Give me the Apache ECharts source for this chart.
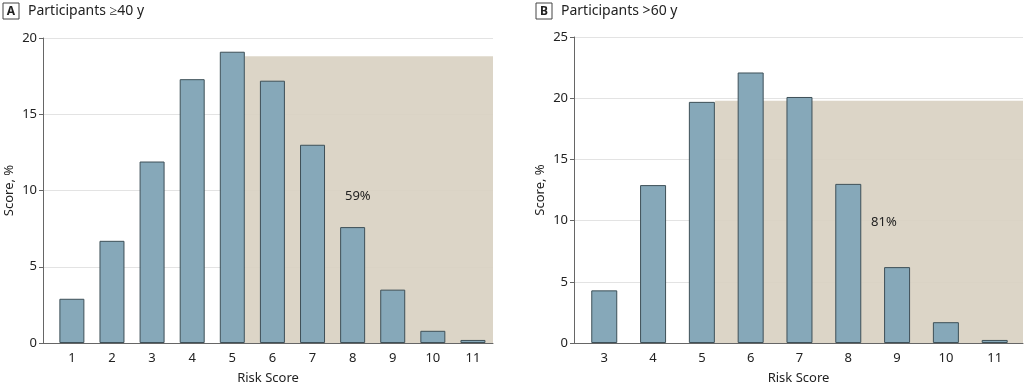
<!DOCTYPE html>
<html><head><meta charset="utf-8">
<script src="https://cdn.jsdelivr.net/npm/echarts@6/dist/echarts.min.js"></script>
<style>html,body{margin:0;padding:0;background:#fff}#c{width:1024px;height:384px}</style>
</head><body><div id="c"></div>
<script>
// Panel A: participants >=40 y
const scoresA = [1,2,3,4,5,6,7,8,9,10,11];
const valuesA = [2.9,6.7,11.9,17.3,19.1,17.2,13.0,7.6,3.5,0.8,0.2];
// Panel B: participants >60 y
const scoresB = [3,4,5,6,7,8,9,10,11];
const valuesB = [4.3,12.9,19.7,22.1,20.1,13.0,6.2,1.7,0.25];
// shaded (high-risk) regions: [xStart, xEnd, height] and label
const shadeA = [5.31, 11.5, 18.8];
const shadeB = [5.27, 11.58, 19.8];
const labelA = {text:'59%', x:8.13, y:9.6};
const labelB = {text:'81%', x:8.73, y:9.9};
const yTicksA = {max:20, step:5};
const yTicksB = {max:25, step:5};

const FONT = 'Noto Sans';
const axisCol = '#666';
const barStyle = {color:'#86a8b9', borderColor:'#3e5058', borderWidth:1};
const shadeCol = '#d9d2c3';

function xAxis(idx, min, max, cats){
  return {type:'value', gridIndex:idx, min:min, max:max,
    name:'Risk Score', nameLocation:'middle', nameGap:29,
    nameTextStyle:{fontFamily:FONT, fontSize:13, color:'#222'},
    axisLine:{show:true, onZero:false, lineStyle:{color:axisCol, width:1}},
    axisTick:{show:false}, splitLine:{show:false},
    axisLabel:{customValues:cats, fontFamily:FONT, fontSize:13, color:'#222', margin:9}};
}
function yAxis(idx, t){
  return {type:'value', gridIndex:idx, min:0, max:t.max, interval:t.step,
    name:'Score, %', nameLocation:'middle', nameGap:27,
    nameTextStyle:{fontFamily:FONT, fontSize:13, color:'#222'},
    axisLine:{show:true, lineStyle:{color:axisCol, width:1}},
    axisTick:{show:true, length:4, lineStyle:{color:axisCol}},
    splitLine:{show:true, lineStyle:{color:'#e3e3e3', width:1}},
    axisLabel:{fontFamily:FONT, fontSize:13, color:'#222', margin:6}};
}
function shadeSeries(idx, s, lab){
  return {type:'scatter', xAxisIndex:idx, yAxisIndex:idx, data:[], z:1, silent:true,
    markArea:{silent:true, itemStyle:{color:shadeCol, opacity:0.93},
      data:[[{coord:[s[0],0]},{coord:[s[1],s[2]]}]]},
    markPoint:{symbolSize:0, silent:true,
      label:{show:true, formatter:lab.text, fontFamily:FONT, fontSize:13, color:'#222'},
      data:[{coord:[lab.x, lab.y], value:lab.text}]}};
}
function barSeries(idx, xs, ys, w){
  return {type:'bar', xAxisIndex:idx, yAxisIndex:idx, z:3, barWidth:w,
    itemStyle:barStyle, data:xs.map((x,i)=>[x, ys[i]])};
}
function title(letter, text, left){
  return {left:left, top:1, padding:[2,0,0,0], text:'{b|'+letter+'}{t|'+text+'}',
    textStyle:{fontWeight:'normal', rich:{
      b:{fontFamily:FONT, fontSize:12, fontWeight:'bold', color:'#222', borderColor:'#444', borderWidth:1, padding:[3,4,1,4], width:8, align:'center'},
      t:{fontFamily:FONT, fontSize:14, fontWeight:'normal', color:'#222', padding:[0,0,0,9]}}}};
}
const chart = echarts.init(document.getElementById('c'), null, {renderer:'canvas'});
chart.setOption({
  animation:false,
  title:[title('A','Participants ≥40 y', 3), title('B','Participants >60 y', 536)],
  grid:[{left:43, right:531, top:38, bottom:41, outerBoundsMode:'none'},
        {left:574, right:1, top:37, bottom:41, outerBoundsMode:'none'}],
  xAxis:[xAxis(0, 0.28, 11.5, scoresA), xAxis(1, 2.38, 11.58, scoresB)],
  yAxis:[yAxis(0, yTicksA), yAxis(1, yTicksB)],
  series:[shadeSeries(0, shadeA, labelA), barSeries(0, scoresA, valuesA, 25),
          shadeSeries(1, shadeB, labelB), barSeries(1, scoresB, valuesB, 26)]
});
</script></body></html>
